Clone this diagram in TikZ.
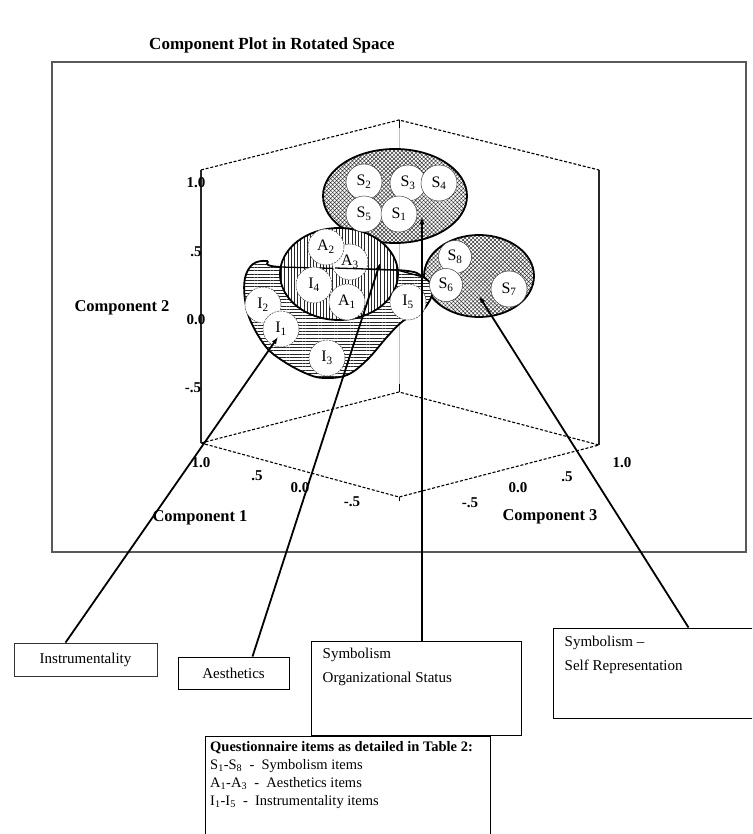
\documentclass[tikz,border=0pt]{standalone}
\usepackage{fontspec}
\setmainfont{Liberation Serif}
\usetikzlibrary{patterns.meta,arrows.meta,calc}
\begin{document}
\begin{tikzpicture}[x=1pt,y=-1pt,
  dashedge/.style={dash pattern=on 3pt off 1.8pt, line width=1.1pt},
  axisline/.style={line width=1.1pt, black!85},
  item/.style={circle, draw=black!75, line width=0.5pt, fill=white, minimum size=36pt, inner sep=0pt, font=\fontsize{16}{16}\selectfont},
  ditem/.style={item, dash pattern=on 2pt off 1pt},
  lblbox/.style={draw, line width=1pt, fill=white, inner sep=0pt},
  lbltext/.style={font=\fontsize{15}{24}\selectfont, inner sep=0pt, align=left},
  ticklbl/.style={font=\bfseries\fontsize{15}{15}\selectfont, inner sep=0pt},
  complbl/.style={font=\bfseries\fontsize{16.5}{16.5}\selectfont, inner sep=0pt},
  arr/.style={line width=1.8pt, -{Latex[length=7pt,width=5pt]}},
  outl/.style={line width=1.8pt},
]
\useasboundingbox (0,0) rectangle (752,834);
\clip (0,0) rectangle (752,834);

% title
\node[font=\bfseries\fontsize{17}{17}\selectfont] (title) at (272,45) {Component Plot in Rotated Space};

% outer frame
\draw[line width=1.3pt, black!65] (52,62) rectangle (746,552);

% 3D box
\coordinate (ftl) at (201,170);
\coordinate (fbl) at (201,443);
\coordinate (apex) at (399,120);
\coordinate (backb) at (399,392);
\coordinate (rtop) at (599,170);
\coordinate (rbot) at (599,445);
\coordinate (front) at (399,497);
\draw[black!25, line width=0.8pt] (apex) -- (backb);
\draw[line width=0.9pt] (apex) -- ++(0,8);
\draw[line width=0.9pt] (backb) -- ++(0,-8);
\draw[line width=0.9pt] (front) -- ++(0,4);
\draw[dashedge] (ftl) -- (apex) -- (rtop);
\draw[dashedge] (fbl) -- (backb) -- (rbot) -- (front) -- cycle;
\draw[axisline] (ftl) -- (fbl);
\draw[axisline] (rtop) -- (rbot);

% tick labels
\node[ticklbl] (t21) at (196,183) {1.0};
\node[ticklbl] (t22) at (196,252) {.5};
\node[ticklbl] (t23) at (196,320) {0.0};
\node[ticklbl] (t24) at (193,388) {-.5};
\node[complbl] (c2) at (122,308) {Component 2};
\node[ticklbl] (t11) at (201,463) {1.0};
\node[ticklbl] (t12) at (257,476) {.5};
\node[ticklbl] (t13) at (300,488) {0.0};
\node[ticklbl] (t14) at (352,502) {-.5};
\node[complbl] (c1) at (200,518) {Component 1};
\node[ticklbl] (t31) at (470,503) {-.5};
\node[ticklbl] (t32) at (518,488) {0.0};
\node[ticklbl] (t33) at (567,477) {.5};
\node[ticklbl] (t34) at (622,463) {1.0};
\node[complbl] (c3) at (550,517) {Component 3};

% upper ellipse (symbolism organizational status)
\fill[white] (395,196) ellipse [x radius=72, y radius=47];
\fill[pattern={Hatch[angle=45,distance=2.8pt,line width=0.5pt]}, pattern color=black!80] (395,196) ellipse [x radius=72, y radius=47];
\draw[outl] (395,196) ellipse [x radius=72, y radius=47];

% right ellipse (self representation)
\fill[white] (479,276) ellipse [x radius=55, y radius=41];
\fill[pattern={Hatch[angle=45,distance=2.8pt,line width=0.5pt]}, pattern color=black!80] (479,276) ellipse [x radius=55, y radius=41];
\draw[outl] (479,276) ellipse [x radius=55, y radius=41];

% instrumentality blob
\def\blob{plot[smooth cycle, tension=0.6] coordinates {(280,267) (397,270) (423,277) (433,290) (423,310) (403,321) (387,337) (367,360) (347,375) (323,378) (305,373) (283,361) (266,347) (251,322) (245,300) (245,278) (253,264) (267,261)}}
\fill[white] \blob;
\fill[pattern={Lines[angle=0,distance=3.2pt,line width=0.8pt]}, pattern color=black!85] \blob;
\draw[outl] \blob;

% aesthetics ellipse
\fill[white] (339,274) ellipse [x radius=59, y radius=46];
\fill[pattern={Lines[angle=90,distance=3.2pt,line width=0.8pt]}, pattern color=black!85] (339,274) ellipse [x radius=59, y radius=46];
\draw[outl] (339,274) ellipse [x radius=59, y radius=46];

% blob top edge crossing the ellipse
\draw[line width=1.3pt] (280,267) -- (397,270) -- (423,277);

% circles: symbolism
\node[item] (s2) at (364,182) {S\textsubscript{2}};
\node[item] (s3) at (408,183) {S\textsubscript{3}};
\node[item] (s4) at (439,183) {S\textsubscript{4}};
\node[item] (s5) at (364,214) {S\textsubscript{5}};
\node[item] (s1) at (399,214) {S\textsubscript{1}};
\node[item, minimum size=33pt] (s8) at (455,257) {S\textsubscript{8}};
\node[item, minimum size=33pt] (s6) at (446,285) {S\textsubscript{6}};
\node[item] (s7) at (509,289) {S\textsubscript{7}};

% circles: aesthetics / instrumentality
\node[ditem] (a3) at (350,262) {A\textsubscript{3}};
\node[ditem] (a2) at (326,247) {A\textsubscript{2}};
\node[ditem] (i4) at (314,285) {I\textsubscript{4}};
\node[ditem] (a1) at (347,302) {A\textsubscript{1}};
\node[ditem] (i5) at (408,302) {I\textsubscript{5}};
\node[ditem] (i2) at (263,305) {I\textsubscript{2}};
\node[ditem] (i1) at (281,329) {I\textsubscript{1}};
\node[ditem] (i3) at (327,358) {I\textsubscript{3}};
\draw[line width=1.3pt] (335,268) -- (397,270);

% arrow tips
\coordinate (tipI) at (278,337);
\coordinate (tipA) at (380,263);
\coordinate (tipS) at (422,217);
\coordinate (tipR) at (479,296);

% label boxes
\node[lblbox, line width=0.8pt, draw=black!80, minimum width=143pt, minimum height=33pt] (inst) at (85.5,659.5) {};
\node[lbltext] (instT) at (inst.center) {Instrumentality};
\node[lblbox, minimum width=111pt, minimum height=32pt] (aes) at (233.5,673) {};
\node[lbltext] (aesT) at (aes.center) {Aesthetics};
\node[lblbox, minimum width=210pt, minimum height=94pt] (sos) at (416,688) {};
\node[lbltext, anchor=north west] (sosT) at ([xshift=12pt,yshift=-7pt]sos.north west) {Symbolism\\Organizational Status};
\node[lblbox, minimum width=207pt, minimum height=90pt] (ssr) at (656.5,673) {};
\node[lbltext, anchor=north west] (ssrT) at ([xshift=12pt,yshift=-8pt]ssr.north west) {Symbolism --\\Self Representation};

% connectors
\draw[arr] ([xshift=-20pt]inst.north) -- (tipI);
\draw[arr] ([xshift=19pt]aes.north) -- (tipA);
\draw[arr] ([xshift=6pt]sos.north) -- (tipS);
\draw[arr] ([xshift=32pt]ssr.north) -- (tipR);

% legend
\draw[line width=1pt] (490,900) -- (490,736) -- (205,736) -- (205,900);
\node[anchor=north west, inner sep=0pt, align=left, font=\fontsize{14.5}{18}\selectfont] (legend) at (210,741) {%
\textbf{Questionnaire items as detailed in Table 2:}\\
S\textsubscript{1}-S\textsubscript{8} \ -\ \ Symbolism items\\
A\textsubscript{1}-A\textsubscript{3} \ -\ \ Aesthetics items\\
I\textsubscript{1}-I\textsubscript{5} \ -\ \ Instrumentality items};
\end{tikzpicture}
\end{document}
